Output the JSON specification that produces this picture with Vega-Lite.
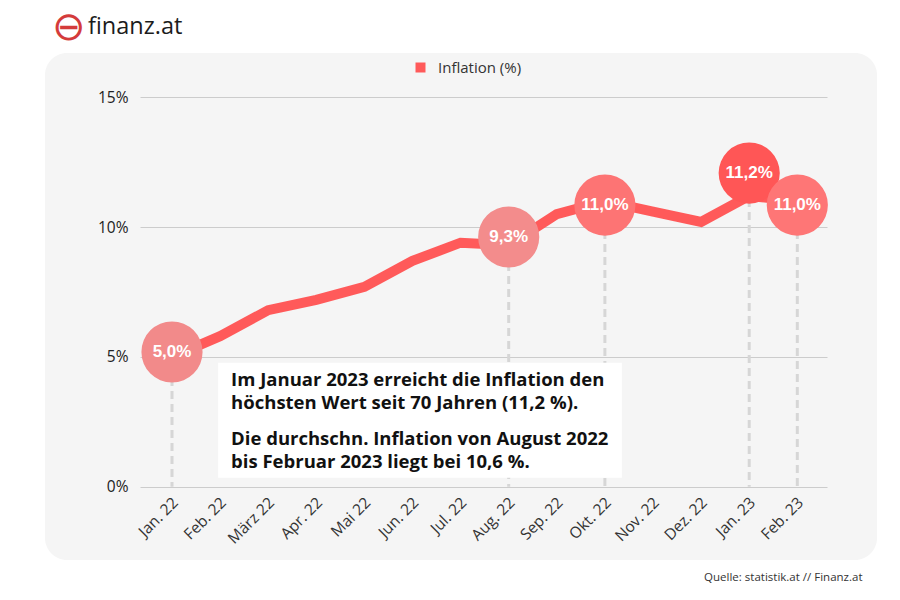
{
  "$schema": "https://vega.github.io/schema/vega-lite/v6.json",
  "width": 832,
  "height": 507,
  "autosize": {"type": "none"},
  "padding": {"left": 45, "top": 53, "right": 23, "bottom": 40},
  "background": "white",
  "config": {
    "view": {"fill": "#f5f5f5", "stroke": null, "cornerRadius": 22}
  },
  "title": {
    "text": "finanz.at",
    "anchor": "start",
    "frame": "group",
    "dx": 43,
    "dy": 69,
    "baseline": "alphabetic",
    "offset": 19,
    "font": "Open Sans",
    "fontSize": 23.5,
    "fontWeight": 500,
    "color": "#1c1c1c"
  },
  "data": {
    "values": [
      {"month": "Jan. 22", "inflation": 5.0, "label": "5,0%", "bubble": 5.19},
      {"month": "Feb. 22", "inflation": 5.8},
      {"month": "März 22", "inflation": 6.8},
      {"month": "Apr. 22", "inflation": 7.2},
      {"month": "Mai 22", "inflation": 7.7},
      {"month": "Jun. 22", "inflation": 8.7},
      {"month": "Jul. 22", "inflation": 9.4},
      {"month": "Aug. 22", "inflation": 9.3, "label": "9,3%", "bubble": 9.62},
      {"month": "Sep. 22", "inflation": 10.5},
      {"month": "Okt. 22", "inflation": 11.0, "label": "11,0%", "bubble": 10.85},
      {"month": "Nov. 22", "inflation": 10.6},
      {"month": "Dez. 22", "inflation": 10.2},
      {"month": "Jan. 23", "inflation": 11.2, "label": "11,2%", "bubble": 12.08},
      {"month": "Feb. 23", "inflation": 11.0, "label": "11,0%", "bubble": 10.85}
    ]
  },
  "encoding": {
    "x": {
      "field": "month",
      "type": "ordinal",
      "scale": {
        "type": "point",
        "domain": ["Jan. 22", "Feb. 22", "März 22", "Apr. 22", "Mai 22", "Jun. 22", "Jul. 22", "Aug. 22", "Sep. 22", "Okt. 22", "Nov. 22", "Dez. 22", "Jan. 23", "Feb. 23"],
        "range": [127, 752.3],
        "padding": 0
      },
      "axis": {
        "orient": "bottom",
        "offset": -73.3,
        "labelAngle": -45,
        "labelAlign": "right",
        "labelBaseline": "middle",
        "labelPadding": 13,
        "labelOffset": 3,
        "labelOverlap": false,
        "ticks": false,
        "domain": false,
        "grid": false,
        "labelFont": "Open Sans",
        "labelFontSize": 15.5,
        "labelColor": "#333333",
        "title": "Quelle: statistik.at // Finanz.at",
        "titleX": 817,
        "titleY": 91,
        "titleAlign": "right",
        "titleBaseline": "middle",
        "titleFont": "Open Sans",
        "titleFontSize": 11.5,
        "titleFontWeight": "normal",
        "titleColor": "#333333"
      }
    }
  },
  "layer": [
    {
      "transform": [{"filter": "datum.label != null"}],
      "mark": {"type": "rule", "strokeDash": [8, 5], "strokeWidth": 3, "color": "#d6d6d6"},
      "encoding": {
        "y": {
          "field": "bubble",
          "type": "quantitative",
          "scale": {"domain": [-2.824, 16.707], "nice": false, "zero": false},
          "axis": {
            "orient": "left",
            "offset": -782,
            "values": [0, 5, 10, 15],
            "labelExpr": "datum.value + '%'",
            "tickSize": 687,
            "tickColor": "#cccccc",
            "tickWidth": 1,
            "domain": false,
            "grid": false,
            "labelPadding": 12,
            "labelFont": "Open Sans",
            "labelFontSize": 15.5,
            "labelColor": "#222222",
            "title": "⊖",
            "titleX": -759,
            "titleY": -26,
            "titleAngle": 0,
            "titleAlign": "center",
            "titleBaseline": "middle",
            "titleFont": "DejaVu Sans",
            "titleFontSize": 40,
            "titleFontWeight": 200,
            "titleColor": "#d43b3b"
          }
        },
        "y2": {"datum": 0}
      }
    },
    {
      "data": {"values": [{"note": "box"}]},
      "mark": {"type": "rect", "fill": "white", "xOffset": -2, "x2Offset": 17},
      "encoding": {
        "x": {"datum": "Feb. 22"},
        "x2": {"datum": "Okt. 22"},
        "y": {"datum": 4.77},
        "y2": {"datum": 0.34}
      }
    },
    {
      "data": {"values": [{"note": "p1"}]},
      "mark": {
        "type": "text",
        "text": ["Im Januar 2023 erreicht die Inflation den", "höchsten Wert seit 70 Jahren (11,2 %)."],
        "align": "left",
        "baseline": "alphabetic",
        "dx": 11,
        "font": "Open Sans",
        "fontWeight": "bold",
        "fontSize": 18.5,
        "lineHeight": 23,
        "color": "#111111"
      },
      "encoding": {
        "x": {"datum": "Feb. 22"},
        "y": {"datum": 3.87}
      }
    },
    {
      "data": {"values": [{"note": "p2"}]},
      "mark": {
        "type": "text",
        "text": ["Die durchschn. Inflation von August 2022", "bis Februar 2023 liegt bei 10,6 %."],
        "align": "left",
        "baseline": "alphabetic",
        "dx": 11,
        "font": "Open Sans",
        "fontWeight": "bold",
        "fontSize": 18.5,
        "lineHeight": 23,
        "color": "#111111"
      },
      "encoding": {
        "x": {"datum": "Feb. 22"},
        "y": {"datum": 1.6}
      }
    },
    {
      "mark": {"type": "line", "strokeWidth": 10, "strokeJoin": "miter"},
      "encoding": {
        "y": {"field": "inflation", "type": "quantitative"},
        "color": {
          "datum": "Inflation (%)",
          "scale": {"range": ["#ff5a5a"]},
          "legend": {
            "orient": "none",
            "legendX": 368,
            "legendY": 7,
            "title": null,
            "symbolType": "square",
            "symbolSize": 100,
            "symbolStrokeWidth": 0,
            "symbolFillColor": "#ff5a5a",
            "symbolOpacity": 1,
            "labelFont": "Open Sans",
            "labelFontSize": 15,
            "labelColor": "#333333",
            "labelOffset": 10,
            "padding": 0
          }
        }
      }
    },
    {
      "transform": [{"filter": "datum.label != null"}],
      "mark": {"type": "circle", "size": 3740, "opacity": 1},
      "encoding": {
        "y": {"field": "bubble", "type": "quantitative"},
        "fill": {
          "field": "month",
          "type": "nominal",
          "scale": {
            "domain": ["Jan. 22", "Aug. 22", "Okt. 22", "Jan. 23", "Feb. 23"],
            "range": ["#f28a8a", "#f38c8c", "#fd7474", "#ff5656", "#fe7676"]
          },
          "legend": null
        }
      }
    },
    {
      "transform": [{"filter": "datum.label != null"}],
      "mark": {
        "type": "text",
        "font": "Liberation Sans",
        "fontWeight": "bold",
        "fontSize": 17,
        "color": "white",
        "baseline": "middle",
        "align": "center"
      },
      "encoding": {
        "y": {"field": "bubble", "type": "quantitative"},
        "text": {"field": "label"}
      }
    }
  ]
}
